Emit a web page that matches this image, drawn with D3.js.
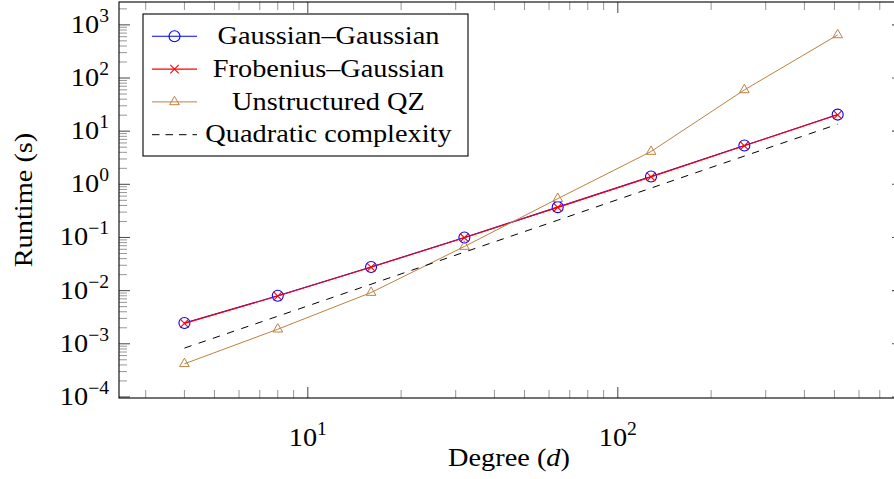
<!DOCTYPE html>
<html><head><meta charset="utf-8">
<script src="https://cdn.jsdelivr.net/npm/d3@7"></script>
<style>
body{margin:0;background:#fff;}
svg text{font-family:"Liberation Serif","Times New Roman",serif;fill:#000;}
</style>
</head><body>
<svg id="c" width="894" height="479"></svg>
<script>
// ---- data ----
const degrees      = [4, 8, 16, 32, 64, 128, 256, 512];
const gaussGauss   = [2.46e-3, 8.0e-3, 2.78e-2, 0.100, 0.372, 1.40, 5.36, 20.5];
const frobGauss    = [2.42e-3, 7.9e-3, 2.75e-2, 0.099, 0.368, 1.38, 5.32, 20.3];
const unstructQZ   = [4.2e-4, 1.88e-3, 9.2e-3, 6.76e-2, 0.537, 4.14, 59.7, 646];
const quadratic    = [8.3e-4, 3.3e-3, 1.32e-2, 5.3e-2, 0.211, 0.85, 3.4, 13.5];
const seriesNames  = ["Gaussian–Gaussian", "Frobenius–Gaussian", "Unstructured QZ", "Quadratic complexity"];
const yTickExps    = [-4, -3, -2, -1, 0, 1, 2, 3];
const xTickExps    = [1, 2];
const xLabel = "Degree (", xLabelVar = "d", yLabel = "Runtime (s)";

// ---- layout ----
const L = 119, R = 903, T = 2, B = 398;
const FS = 26, SX = 1.09, SUP = 18;
const svg = d3.select("#c");
const x = d3.scaleLog().domain([Math.pow(10, 0.391), Math.pow(10, 2.920)]).range([L, R]);
const y = d3.scaleLog().domain([Math.pow(10, -4.02), Math.pow(10, 3.43)]).range([B, T]);

const blue = "#0000ff", red = "#ff0000", brown = "#bf8040";

// ---- ticks (log axes, ticks inside on all four sides) ----
const tickG = svg.append("g");
function minorMajor(scale, lo, hi) {
  const out = [];
  const [d0, d1] = scale.domain();
  for (let e = lo; e <= hi; e++) {
    for (let m = 1; m <= 9; m++) {
      const v = m * Math.pow(10, e);
      if (v >= d0 && v <= d1) out.push({v, major: m === 1});
    }
  }
  return out;
}
const yt = minorMajor(y, -5, 4);
yt.forEach(t => {
  const len = t.major ? 11 : 8;
  const py = y(t.v);
  [[L, L + len], [R, R - len]].forEach(([a, b]) => {
    tickG.append("line").attr("x1", a).attr("x2", b).attr("y1", py).attr("y2", py)
      .attr("stroke", t.major ? "#555" : "#8a8a8a").attr("stroke-width", t.major ? 1.1 : 0.9);
  });
});
const xt = minorMajor(x, 0, 3);
xt.forEach(t => {
  const len = t.major ? 11 : 8;
  const px = x(t.v);
  [[B, B - len], [T, T + len]].forEach(([a, b]) => {
    tickG.append("line").attr("x1", px).attr("x2", px).attr("y1", a).attr("y2", b)
      .attr("stroke", t.major ? "#555" : "#8a8a8a").attr("stroke-width", t.major ? 1.1 : 0.9);
  });
});

// ---- frame ----
svg.append("rect").attr("x", L).attr("y", T).attr("width", R - L).attr("height", B - T)
  .attr("fill", "none").attr("stroke", "#000").attr("stroke-width", 1.1);

// ---- tick labels ----
function powLabel(px, py, exp, anchor) {
  const g = svg.append("g").attr("transform", `translate(${px},${py}) scale(${SX},1)`);
  const t = g.append("text").attr("text-anchor", anchor).attr("font-size", FS);
  t.append("tspan").text("10");
  t.append("tspan").attr("font-size", SUP).attr("dy", -11)
    .text(exp < 0 ? "\u2212" + Math.abs(exp) : String(exp));
}
yTickExps.forEach(e => powLabel(L - 10, y(Math.pow(10, e)) + 8, e, "end"));
xTickExps.forEach(e => powLabel(x(Math.pow(10, e)), 446, e, "middle"));

// ---- axis titles ----
{
  const g = svg.append("g").attr("transform", `translate(${(L + 903) / 2 - 2},466) scale(${SX},1)`);
  const t = g.append("text").attr("text-anchor", "middle").attr("font-size", FS);
  t.append("tspan").text(xLabel);
  t.append("tspan").attr("font-style", "italic").text(xLabelVar);
  t.append("tspan").text(")");
}
{
  const g = svg.append("g").attr("transform", `translate(32,${(T + B) / 2}) rotate(-90) scale(${SX},1)`);
  g.append("text").attr("text-anchor", "middle").attr("font-size", FS).text(yLabel);
}

// ---- series ----
const line = d3.line().x(d => x(d[0])).y(d => y(d[1]));
const zipD = vals => degrees.map((d, i) => [d, vals[i]]);

function circleMark(g, px, py) {
  g.append("circle").attr("cx", px).attr("cy", py).attr("r", 5.5)
    .attr("fill", "none").attr("stroke", blue).attr("stroke-width", 1.1);
}
function crossMark(g, px, py) {
  const s = 4.2;
  g.append("path").attr("d", `M${px - s},${py - s}L${px + s},${py + s}M${px - s},${py + s}L${px + s},${py - s}`)
    .attr("stroke", red).attr("stroke-width", 1.1).attr("fill", "none");
}
function triMark(g, px, py) {
  const r = 5.6, h = r * Math.sqrt(3) / 2;
  g.append("path").attr("d", `M${px},${py - r}L${px + h},${py + r / 2}L${px - h},${py + r / 2}Z`)
    .attr("stroke", brown).attr("stroke-width", 1).attr("fill", "none");
}

const series = [
  {vals: gaussGauss, color: blue, mark: circleMark, width: 1.1},
  {vals: frobGauss, color: red, mark: crossMark, width: 1.1},
  {vals: unstructQZ, color: brown, mark: triMark, width: 1},
  {vals: quadratic, color: "#000", mark: null, width: 1, dash: "7.5,7.5"}
];
const plotG = svg.append("g");
series.forEach(s => {
  const data = zipD(s.vals);
  plotG.append("path").attr("d", line(data)).attr("fill", "none")
    .attr("stroke", s.color).attr("stroke-width", s.width)
    .attr("stroke-dasharray", s.dash || null);
  if (s.mark) data.forEach(d => s.mark(plotG, x(d[0]), y(d[1])));
});

// ---- legend ----
const lg = svg.append("g");
lg.append("rect").attr("x", 143).attr("y", 14).attr("width", 325).attr("height", 142)
  .attr("fill", "#fff").attr("stroke", "#000").attr("stroke-width", 1.1);
series.forEach((s, i) => {
  const cy = 36.3 + i * 32.8;
  lg.append("line").attr("x1", 152).attr("x2", 197).attr("y1", cy).attr("y2", cy)
    .attr("stroke", s.color).attr("stroke-width", s.width)
    .attr("stroke-dasharray", s.dash ? "7.5,6" : null);
  if (s.mark) s.mark(lg, 174.5, cy);
  const g = lg.append("g").attr("transform", `translate(328.5,${cy + 7.6}) scale(${SX},1)`);
  g.append("text").attr("text-anchor", "middle").attr("font-size", FS).text(seriesNames[i]);
});
</script>
</body></html>
